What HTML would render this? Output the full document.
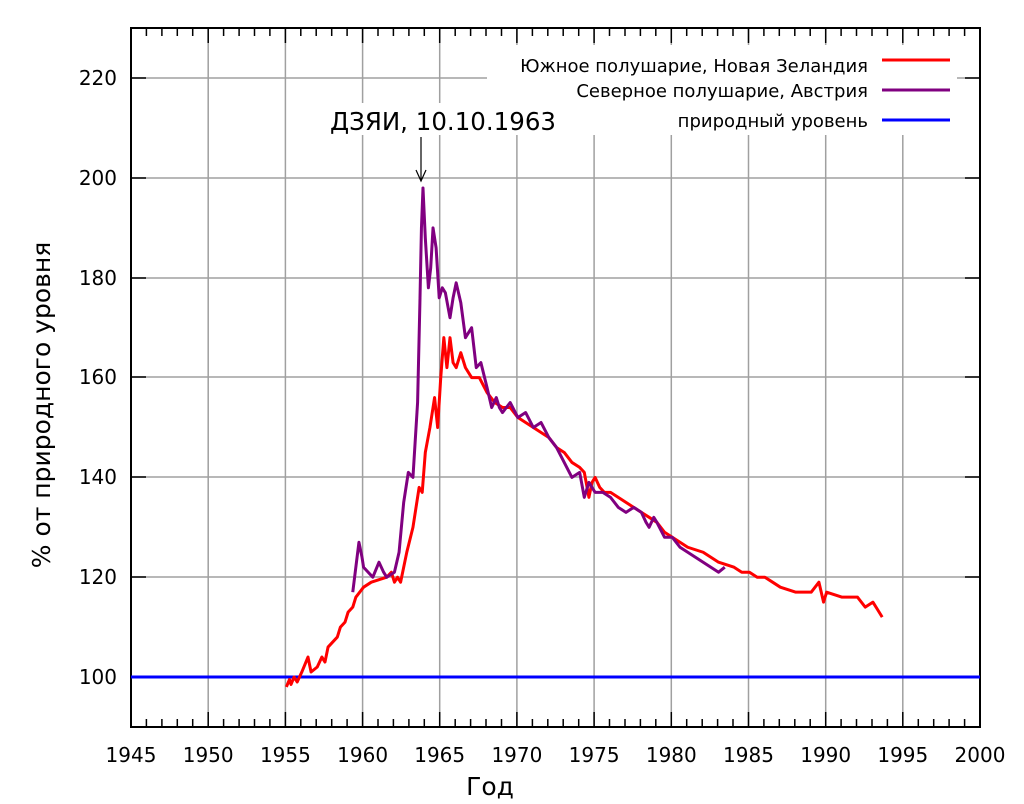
<!DOCTYPE html>
<html><head><meta charset="utf-8"><style>
body{margin:0;background:#fff}
svg{display:block}
text{font-family:"DejaVu Sans","Liberation Sans",sans-serif;fill:#000}
</style></head><body>
<svg width="1024" height="804" viewBox="0 0 1024 804" xmlns="http://www.w3.org/2000/svg">
<rect width="1024" height="804" fill="#fff"/>
<g stroke="#a0a0a0" stroke-width="1.5">
<line x1="208.2" y1="28" x2="208.2" y2="727"/><line x1="285.4" y1="28" x2="285.4" y2="727"/>
<line x1="362.6" y1="28" x2="362.6" y2="727"/><line x1="439.7" y1="28" x2="439.7" y2="727"/>
<line x1="516.9" y1="28" x2="516.9" y2="727"/><line x1="594.1" y1="28" x2="594.1" y2="727"/>
<line x1="671.3" y1="28" x2="671.3" y2="727"/><line x1="748.5" y1="28" x2="748.5" y2="727"/>
<line x1="825.7" y1="28" x2="825.7" y2="727"/><line x1="902.8" y1="28" x2="902.8" y2="727"/>
<line x1="131" y1="78" x2="980" y2="78"/><line x1="131" y1="178" x2="980" y2="178"/>
<line x1="131" y1="278" x2="980" y2="278"/><line x1="131" y1="377" x2="980" y2="377"/>
<line x1="131" y1="477" x2="980" y2="477"/><line x1="131" y1="577" x2="980" y2="577"/>
<line x1="131" y1="677" x2="980" y2="677"/>
</g>
<rect x="487" y="45" width="470" height="90" fill="#fff"/>
<rect x="326" y="103" width="234" height="32" fill="#fff"/>
<path stroke="#000" stroke-width="1.5" fill="none" d="
M131,727v-15M146.4,727v-8M161.9,727v-8M177.3,727v-8M192.7,727v-8M208.2,727v-15M223.6,727v-8M239.1,727v-8M254.5,727v-8M269.9,727v-8M285.4,727v-15M300.8,727v-8M316.2,727v-8M331.7,727v-8M347.1,727v-8M362.6,727v-15M378,727v-8M393.4,727v-8M408.9,727v-8M424.3,727v-8M439.7,727v-15M455.2,727v-8M470.6,727v-8M486,727v-8M501.5,727v-8M516.9,727v-15M532.4,727v-8M547.8,727v-8M563.2,727v-8M578.7,727v-8M594.1,727v-15M609.5,727v-8M625,727v-8M640.4,727v-8M655.8,727v-8M671.3,727v-15M686.7,727v-8M702.2,727v-8M717.6,727v-8M733,727v-8M748.5,727v-15M763.9,727v-8M779.3,727v-8M794.8,727v-8M810.2,727v-8M825.7,727v-15M841.1,727v-8M856.5,727v-8M872,727v-8M887.4,727v-8M902.8,727v-15M918.3,727v-8M933.7,727v-8M949.1,727v-8M964.6,727v-8M980,727v-15
M131,28v15M146.4,28v8M161.9,28v8M177.3,28v8M192.7,28v8M208.2,28v15M223.6,28v8M239.1,28v8M254.5,28v8M269.9,28v8M285.4,28v15M300.8,28v8M316.2,28v8M331.7,28v8M347.1,28v8M362.6,28v15M378,28v8M393.4,28v8M408.9,28v8M424.3,28v8M439.7,28v15M455.2,28v8M470.6,28v8M486,28v8M501.5,28v8M516.9,28v15M532.4,28v8M547.8,28v8M563.2,28v8M578.7,28v8M594.1,28v15M609.5,28v8M625,28v8M640.4,28v8M655.8,28v8M671.3,28v15M686.7,28v8M702.2,28v8M717.6,28v8M733,28v8M748.5,28v15M763.9,28v8M779.3,28v8M794.8,28v8M810.2,28v8M825.7,28v15M841.1,28v8M856.5,28v8M872,28v8M887.4,28v8M902.8,28v15M918.3,28v8M933.7,28v8M949.1,28v8M964.6,28v8M980,28v15
M131,78h15M131,178h15M131,278h15M131,377h15M131,477h15M131,577h15M131,677h15
M980,78h-15M980,178h-15M980,278h-15M980,377h-15M980,477h-15M980,577h-15M980,677h-15"/>
<rect x="131" y="28" width="849" height="699" fill="none" stroke="#000" stroke-width="2"/>
<g font-size="20" text-anchor="end">
<text x="117" y="85">220</text><text x="117" y="185">200</text><text x="117" y="285">180</text>
<text x="117" y="384">160</text><text x="117" y="484">140</text><text x="117" y="584">120</text><text x="117" y="684">100</text>
</g>
<g font-size="20" text-anchor="middle">
<text x="131" y="762">1945</text><text x="208.2" y="762">1950</text><text x="285.4" y="762">1955</text>
<text x="362.6" y="762">1960</text><text x="439.7" y="762">1965</text><text x="516.9" y="762">1970</text>
<text x="594.1" y="762">1975</text><text x="671.3" y="762">1980</text><text x="748.5" y="762">1985</text>
<text x="825.7" y="762">1990</text><text x="902.8" y="762">1995</text><text x="980" y="762">2000</text>
<text x="490" y="795" font-size="25">Год</text>
<text transform="translate(50,405) rotate(-90)" font-size="25">% от природного уровня</text>
</g>
<line x1="131" y1="677" x2="980" y2="677" stroke="#0000ff" stroke-width="3"/>
<g transform="translate(-29891,1176) scale(15.436,-4.99)" fill="none" stroke-width="3" stroke-linejoin="round">
<polyline vector-effect="non-scaling-stroke" stroke="#ff0000" points="1955,98 1955.2,99.5 1955.3,98.5 1955.5,100 1955.7,99 1956,101 1956.4,104 1956.6,101 1957,102 1957.3,104 1957.5,103 1957.7,106 1958,107 1958.3,108 1958.5,110 1958.8,111 1959,113 1959.3,114 1959.5,116 1960,118 1960.5,119 1961,119.5 1961.5,120 1961.8,121 1962,119 1962.2,120 1962.4,119 1962.8,125 1963.2,130 1963.6,138 1963.8,137 1964,145 1964.3,150 1964.6,156 1964.8,150 1965,160 1965.2,168 1965.4,162 1965.6,168 1965.8,163 1966,162 1966.3,165 1966.6,162 1967,160 1967.5,160 1968,157 1968.5,155 1969,154 1969.5,154 1970,152 1970.5,151 1971,150 1971.5,149 1972,148 1972.5,146 1973,145 1973.5,143 1974,142 1974.3,141 1974.6,136 1974.8,139 1975,140 1975.3,138 1975.6,137 1976,137 1976.5,136 1977,135 1977.5,134 1978,133 1978.5,132 1979,131 1979.5,129 1980,128 1980.5,127 1981,126 1981.5,125.5 1982,125 1982.5,124 1983,123 1983.5,122.5 1984,122 1984.5,121 1985,121 1985.5,120 1986,120 1986.5,119 1987,118 1987.5,117.5 1988,117 1988.5,117 1989,117 1989.5,119 1989.8,115 1990,117 1990.5,116.5 1991,116 1991.5,116 1992,116 1992.5,114 1993,115 1993.3,113.5 1993.6,112"/>
<polyline vector-effect="non-scaling-stroke" stroke="#800080" points="1959.3,117 1959.5,122 1959.7,127 1959.9,124 1960,122 1960.3,121 1960.6,120 1961,123 1961.3,121 1961.5,120 1962,121 1962.3,125 1962.6,135 1962.9,141 1963.2,140 1963.5,155 1963.65,175 1963.75,190 1963.85,198 1964,188 1964.2,178 1964.35,182 1964.5,190 1964.7,186 1964.9,176 1965.1,178 1965.3,177 1965.6,172 1965.8,176 1966,179 1966.3,175 1966.6,168 1967,170 1967.3,162 1967.6,163 1968,158 1968.3,154 1968.6,156 1968.8,154 1969,153 1969.5,155 1970,152 1970.5,153 1971,150 1971.5,151 1972,148 1972.5,146 1973,143 1973.5,140 1974,141 1974.3,136 1974.6,139 1975,137 1975.5,137 1976,136 1976.5,134 1977,133 1977.5,134 1978,133 1978.3,131 1978.5,130 1978.8,132 1979,131 1979.5,128 1980,128 1980.5,126 1981,125 1981.5,124 1982,123 1982.5,122 1983,121 1983.4,122"/>
</g>
<g font-size="18" text-anchor="end">
<text x="868" y="72">Южное полушарие, Новая Зеландия</text>
<text x="868" y="97">Северное полушарие, Австрия</text>
<text x="868" y="127">природный уровень</text>
</g>
<line x1="882" y1="60" x2="950" y2="60" stroke="#ff0000" stroke-width="3"/>
<line x1="882" y1="90" x2="950" y2="90" stroke="#800080" stroke-width="3"/>
<line x1="882" y1="120" x2="950" y2="120" stroke="#0000ff" stroke-width="3"/>
<text x="443" y="130" font-size="24.5" text-anchor="middle">ДЗЯИ, 10.10.1963</text>
<line x1="421" y1="137" x2="421" y2="180" stroke="#000" stroke-width="1.2"/>
<polyline points="416,170 421,181 426,170" fill="none" stroke="#000" stroke-width="1.2"/>
</svg>
</body></html>
